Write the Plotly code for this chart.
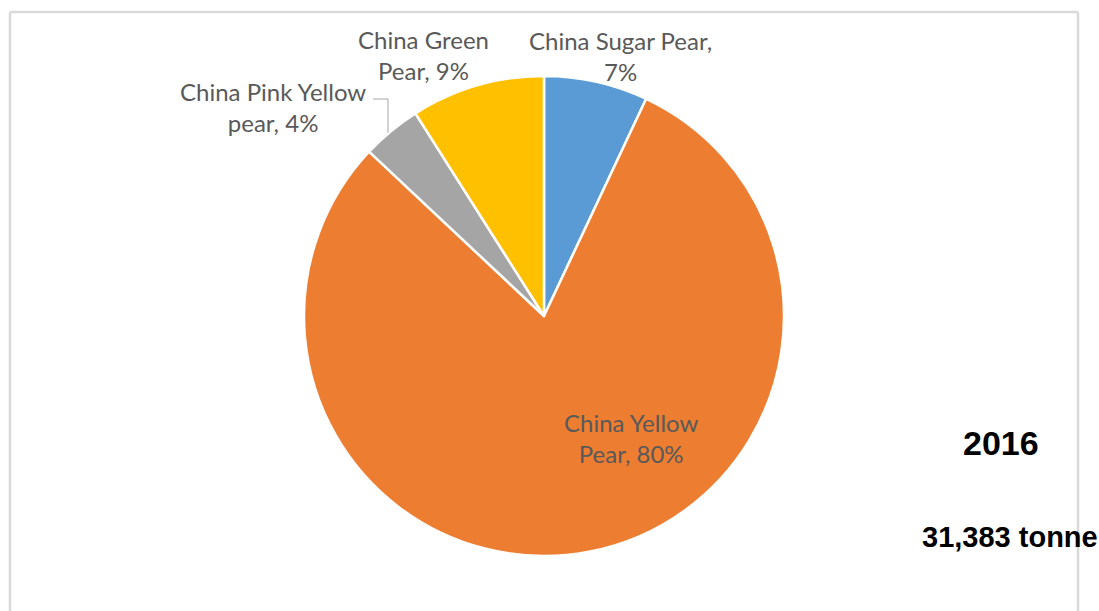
import plotly.graph_objects as go

W, H = 1099, 611

categories = ["China Sugar Pear", "China Yellow Pear", "China Pink Yellow pear", "China Green Pear"]
shares = [7, 80, 4, 9]
label_lines = [("China Sugar Pear,", "7%"), ("China Yellow", "Pear, 80%"),
               ("China Pink Yellow", "pear, 4%"), ("China Green", "Pear, 9%")]
colors = ["#5B9BD5", "#ED7D31", "#A5A5A5", "#FFC000"]
year_text = "2016"
total_text = "31,383 tonne"

# pixel helpers
def px(x):
    return x / W

def py(y):
    return 1 - y / H

cx, cy, r = 544, 316, 240

fig = go.Figure(go.Pie(
    labels=categories,
    values=shares,
    sort=False,
    direction="clockwise",
    rotation=0,
    marker=dict(colors=colors, line=dict(color="white", width=2.5)),
    textinfo="none",
    hoverinfo="label+percent",
    showlegend=False,
    domain=dict(x=[px(cx - r), px(cx + r)], y=[py(cy + r), py(cy - r)]),
))

label_pos = [(620, 56), (631, 438), (273, 107), (423, 55)]
lab_font = dict(family="Lato, sans-serif", size=24, color="#595959")
annotations = []
for (l1, l2), (x, y) in zip(label_lines, label_pos):
    annotations.append(dict(
        x=px(x), y=py(y), xref="paper", yref="paper",
        text=f"{l1}<br>{l2}", showarrow=False, align="center",
        font=lab_font, xanchor="center", yanchor="middle",
    ))

annotations.append(dict(x=px(1001), y=py(443), xref="paper", yref="paper",
                        text=f"<b>{year_text}</b>", showarrow=False,
                        font=dict(family="Liberation Sans, Arial", size=34, color="black"),
                        xanchor="center", yanchor="middle"))
annotations.append(dict(x=px(1010), y=py(537), xref="paper", yref="paper",
                        text=f"<b>{total_text}</b>", showarrow=False,
                        font=dict(family="Liberation Sans, Arial", size=29, color="black"),
                        xanchor="center", yanchor="middle"))

frame = dict(color="#D9D9D9", width=2.5)
shapes = [
    dict(type="line", xref="paper", yref="paper", x0=px(10), x1=px(10), y0=py(12), y1=0, line=frame, layer="below"),
    dict(type="line", xref="paper", yref="paper", x0=px(10), x1=px(1078), y0=py(12), y1=py(12), line=frame, layer="below"),
    dict(type="line", xref="paper", yref="paper", x0=px(1078), x1=px(1078), y0=py(12), y1=0, line=frame, layer="below"),
    # leader line for the small grey slice label
    dict(type="path", xref="paper", yref="paper",
         path=f"M {px(373)},{py(99)} L {px(388)},{py(99)} L {px(388)},{py(133)}",
         line=dict(color="#A6A6A6", width=1)),
]

fig.update_layout(
    width=W, height=H,
    margin=dict(l=0, r=0, t=0, b=0),
    paper_bgcolor="white",
    plot_bgcolor="white",
    annotations=annotations,
    shapes=shapes,
)

fig.write_html("out.html", config={"displayModeBar": False},
               post_script="document.body.style.margin='0';document.body.style.overflow='hidden';")
